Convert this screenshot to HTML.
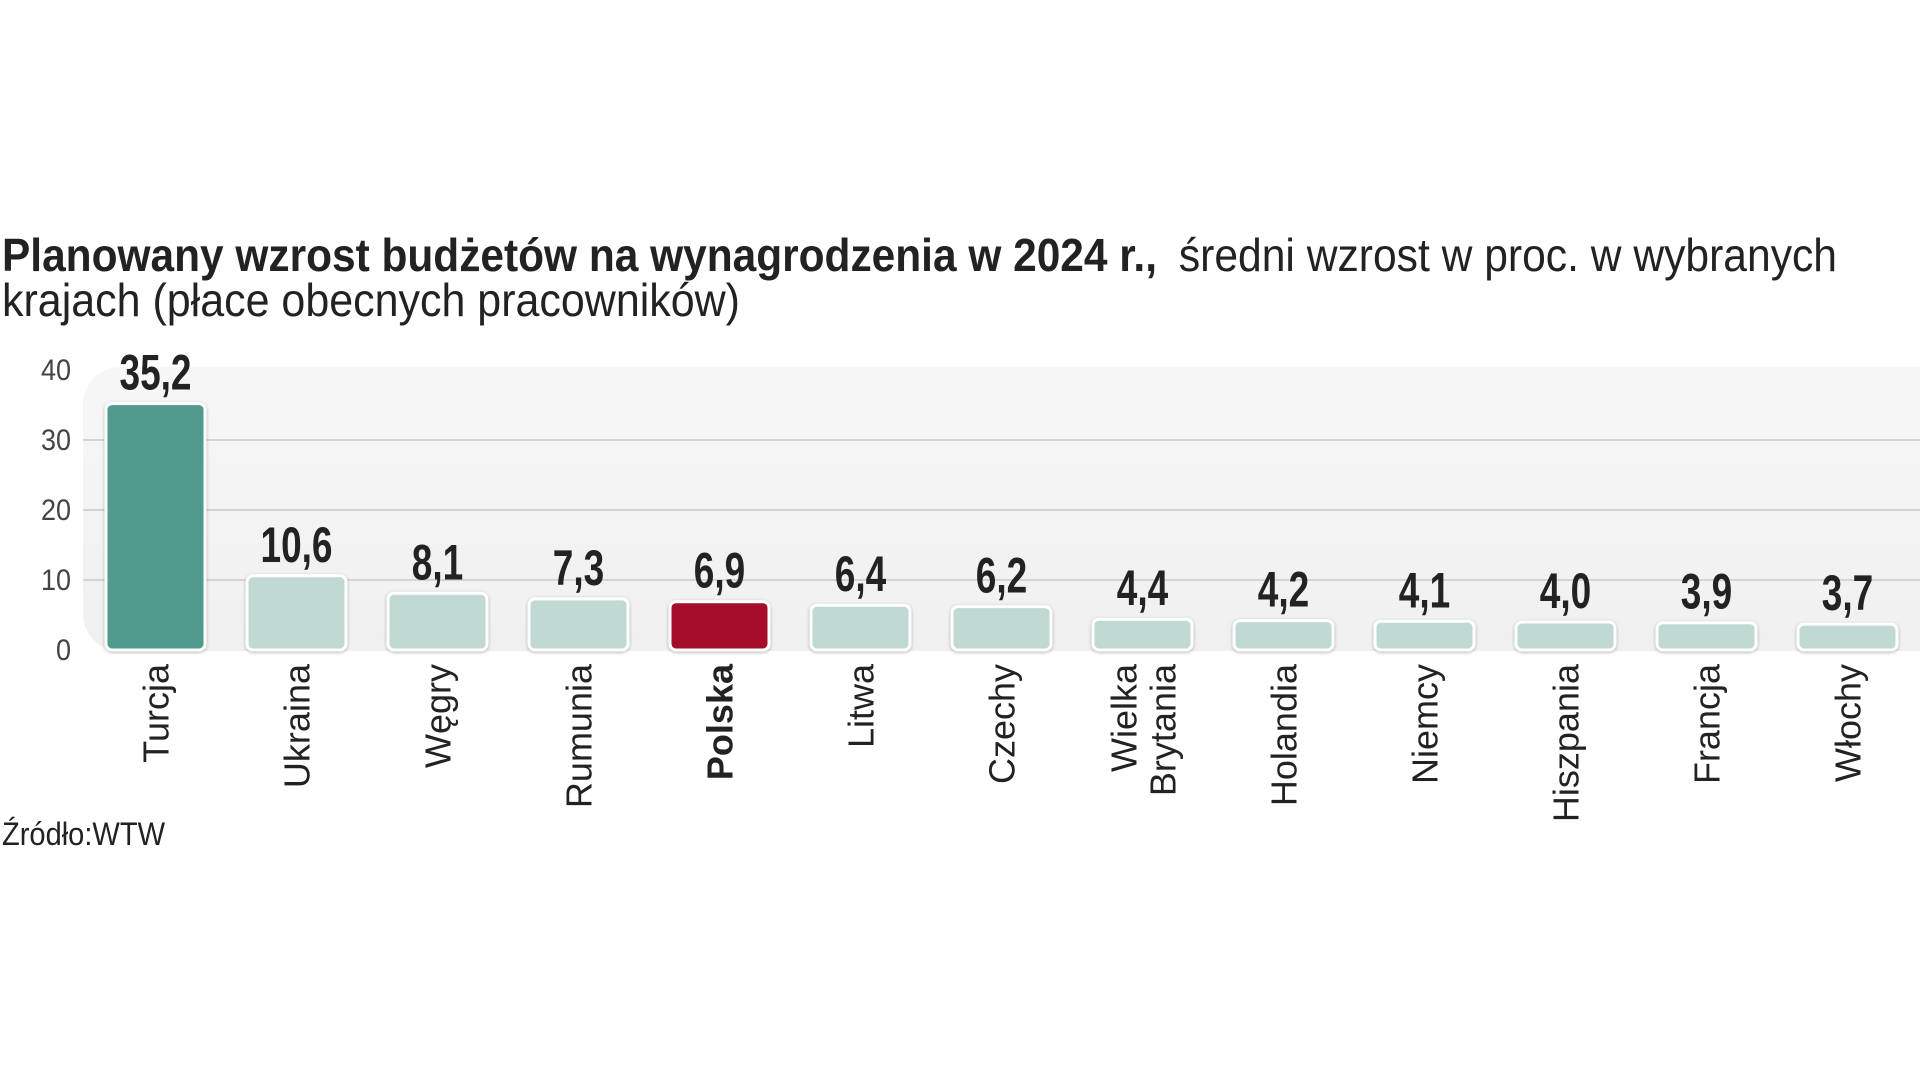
<!DOCTYPE html>
<html><head><meta charset="utf-8"><style>
html,body{margin:0;padding:0;background:#fff;}
svg{display:block;}
</style></head><body>
<svg id="chart" width="1920" height="1080" viewBox="0 0 1920 1080" xmlns="http://www.w3.org/2000/svg">
<defs>
<linearGradient id="panelg" x1="0" y1="0" x2="0" y2="1"><stop offset="0" stop-color="#f7f7f7"/><stop offset="1" stop-color="#f0f0f0"/></linearGradient>
<filter id="sh" x="-10%" y="-10%" width="120%" height="130%"><feDropShadow dx="0" dy="1" stdDeviation="1.5" flood-color="#000" flood-opacity="0.3"/></filter>
</defs>
<text x="2" y="271" font-family="Liberation Sans Narrow, Liberation Sans, sans-serif" font-size="46" fill="#222"><tspan font-weight="bold" textLength="1155" lengthAdjust="spacingAndGlyphs">Planowany wzrost budżetów na wynagrodzenia w 2024 r.,</tspan><tspan x="1167" textLength="670" lengthAdjust="spacingAndGlyphs"> średni wzrost w proc. w wybranych</tspan></text>
<text x="2" y="316" font-family="Liberation Sans Narrow, Liberation Sans, sans-serif" font-size="46" fill="#222" textLength="738" lengthAdjust="spacingAndGlyphs">krajach (płace obecnych pracowników)</text>
<path d="M120,367 H1920 V651 H120 A37,37 0 0 1 83,614 V404 A37,37 0 0 1 120,367 Z" fill="url(#panelg)"/>
<g id="grid"></g>
<g id="bars"></g>
<text x="2" y="845" font-family="Liberation Sans Narrow, Liberation Sans, sans-serif" font-size="32" fill="#222" textLength="163" lengthAdjust="spacingAndGlyphs">Źródło:WTW</text>
</svg>
<script>
const categories = ["Turcja","Ukraina","Węgry","Rumunia","Polska","Litwa","Czechy","Wielka Brytania","Holandia","Niemcy","Hiszpania","Francja","Włochy"];
const values = [35.2,10.6,8.1,7.3,6.9,6.4,6.2,4.4,4.2,4.1,4.0,3.9,3.7];
const valueLabels = ["35,2","10,6","8,1","7,3","6,9","6,4","6,2","4,4","4,2","4,1","4,0","3,9","3,7"];
const yTicks = [0,10,20,30,40];
const yTickLabels = ["0","10","20","30","40"];

const NS = "http://www.w3.org/2000/svg";
const y0 = 650, pxPerUnit = 7;
function yScale(v){ return y0 - v * pxPerUnit; }
function xCenter(i){ return 155.5 + i * 141; }
const bw = 99;
const grid = document.getElementById('grid');
const barsG = document.getElementById('bars');
function mk(tag, attrs){ const e = document.createElementNS(NS, tag); for (const k in attrs) e.setAttribute(k, attrs[k]); return e; }

yTicks.forEach((t, i) => {
  if (t > 0 && t < 40) {
    const l = mk('line', {x1: 83, x2: 1920, y1: yScale(t), y2: yScale(t), stroke: '#d4d4d4', 'stroke-width': 2});
    
    
    grid.appendChild(l);
  }
  const tx = mk('text', {x: 71, y: yScale(t) + 10, 'text-anchor': 'end', 'font-family': 'Liberation Sans Narrow, Liberation Sans, sans-serif', 'font-size': 30, fill: '#444', transform: 'translate(71,0) scale(0.9,1) translate(-71,0)'});
  tx.textContent = yTickLabels[i];
  
  
  grid.appendChild(tx);
});

values.forEach((v, i) => {
  const cx = xCenter(i);
  const top = yScale(v);
  let fill = '#c0d9d3';
  if (i === 0) fill = '#4f9a8c';
  if (categories[i] === 'Polska') fill = '#a51029';
  const r = mk('rect', {x: cx - bw/2, y: top, width: bw, height: y0 - top, rx: 6, fill: fill, stroke: '#fff', 'stroke-width': 3, filter: 'url(#sh)'});
  
  
  barsG.appendChild(r);

  const vl = mk('text', {x: 0, y: 0, 'text-anchor': 'middle', 'font-family': 'Liberation Sans Narrow, Liberation Sans, sans-serif', 'font-weight': 'bold', 'font-size': 50, fill: '#222', transform: 'translate(' + cx + ',' + (top - 14) + ') scale(0.74,1)'});
  vl.textContent = valueLabels[i];
  
  
  barsG.appendChild(vl);

  const parts = categories[i] === 'Wielka Brytania' ? ['Wielka', 'Brytania'] : [categories[i]];
  const g = mk('g', {transform: 'translate(' + cx + ',664) rotate(-90)'});
  
  
  parts.forEach((p, j) => {
    const off = parts.length === 1 ? 13 : (j === 0 ? -6 : 33);
    const t = mk('text', {x: 0, y: off, 'text-anchor': 'end', 'font-family': 'Liberation Sans, sans-serif', 'font-size': 36, fill: '#222', 'font-weight': categories[i] === 'Polska' ? 'bold' : 'normal'});
    t.textContent = p;
    
    
    g.appendChild(t);
  });
  barsG.appendChild(g);
});
</script>
</body></html>
